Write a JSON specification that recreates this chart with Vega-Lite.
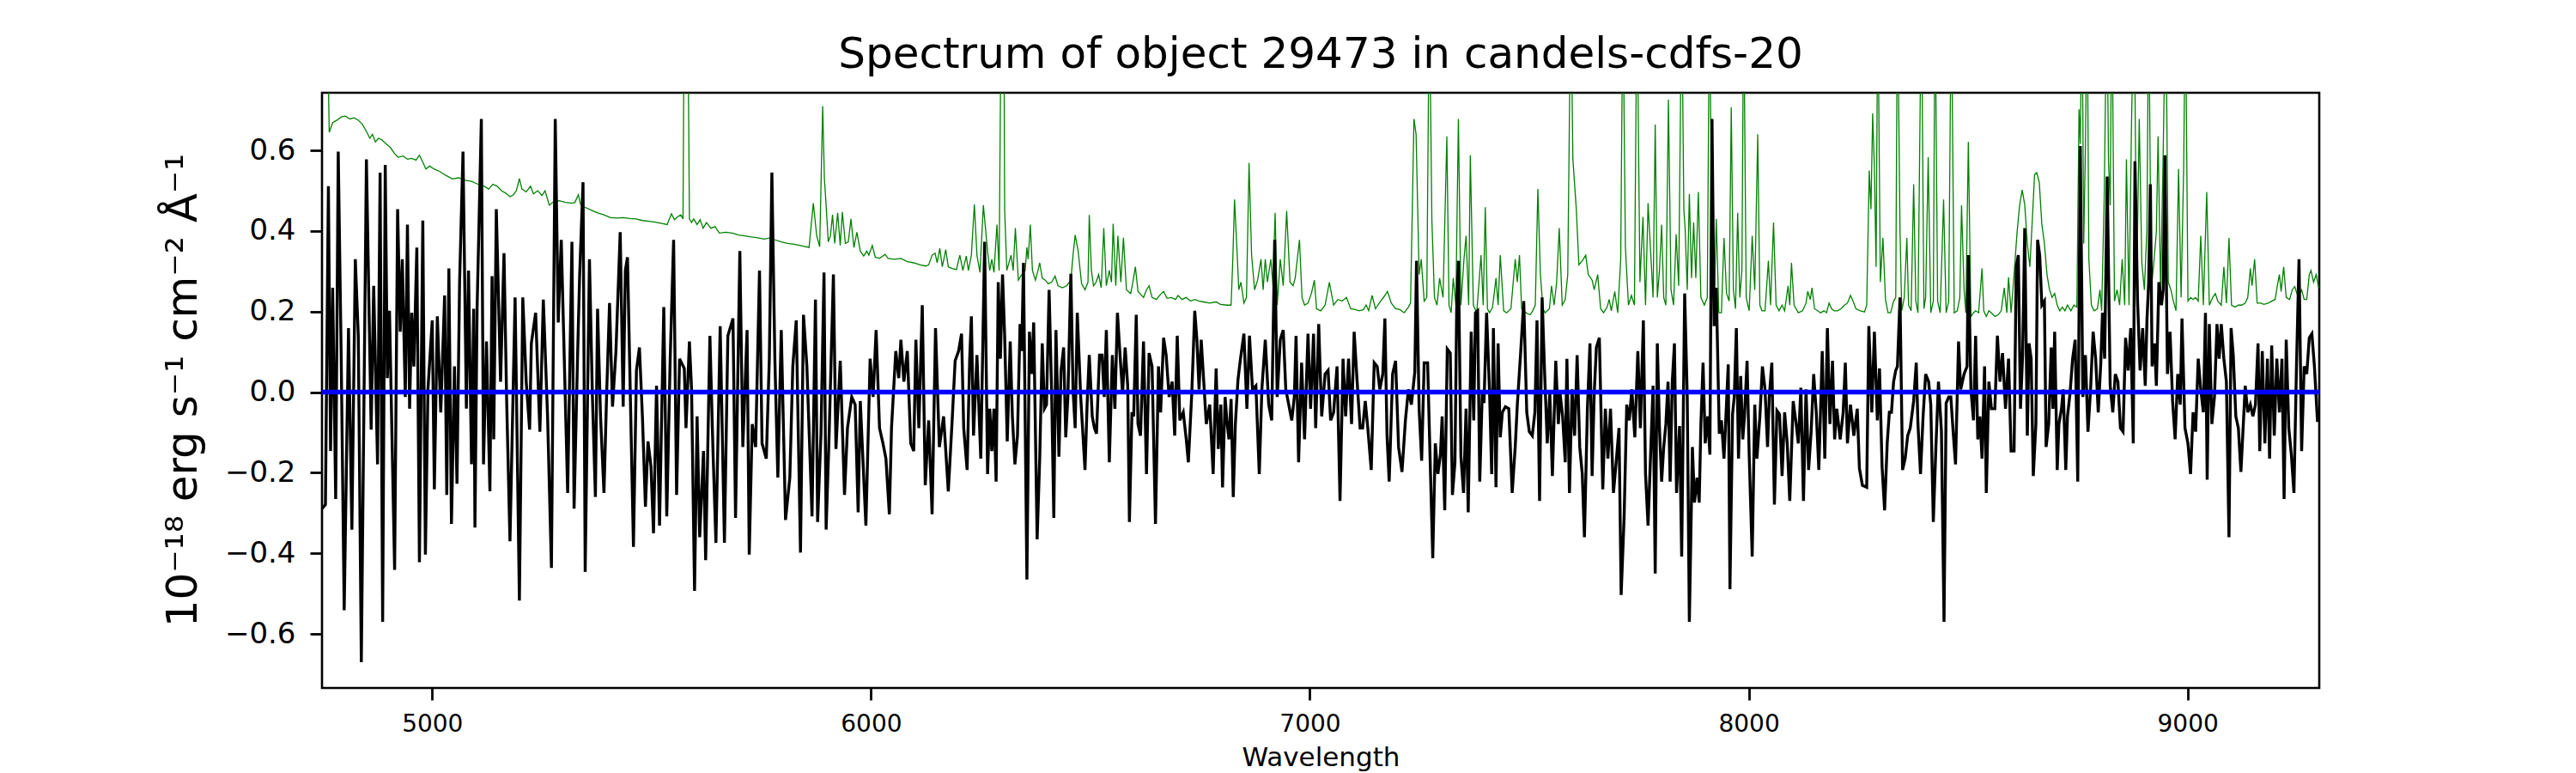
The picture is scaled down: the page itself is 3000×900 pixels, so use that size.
{
  "$schema": "https://vega.github.io/schema/vega-lite/v6.json",
  "width": 2326,
  "height": 693,
  "autosize": {"type": "none"},
  "padding": {"left": 375, "top": 108, "right": 299, "bottom": 99},
  "background": "white",
  "title": {
    "text": "Spectrum of object 29473 in candels-cdfs-20",
    "font": "DejaVu Sans",
    "fontSize": 50,
    "fontWeight": "normal",
    "color": "black",
    "anchor": "middle",
    "frame": "group",
    "baseline": "alphabetic",
    "offset": -21
  },
  "config": {
    "view": {"stroke": "black", "strokeWidth": 2.6},
    "axis": {
      "grid": false,
      "domain": false,
      "labelFont": "DejaVu Sans",
      "titleFont": "DejaVu Sans",
      "labelColor": "black",
      "titleColor": "black",
      "tickColor": "black",
      "tickWidth": 2.8,
      "tickSize": 14,
      "titleFontWeight": "normal"
    }
  },
  "datasets": {
    "zero": [{"w": 4749, "f": 0}, {"w": 9300, "f": 0}],
    "flux": [
      {"w":4749,"f":-0.289},{"w":4756.8,"f":-0.279},{"w":4763.6,"f":0.511},{"w":4768.5,"f":-0.146},{"w":4773.3,"f":0.259},{"w":4780.2,"f":-0.265},{"w":4786,"f":0.597},{"w":4792.8,"f":0.083},{"w":4799.6,"f":-0.541},{"w":4809.4,"f":0.159},
      {"w":4817.1,"f":-0.341},{"w":4824.9,"f":0.33},{"w":4831.7,"f":0.14},{"w":4838.6,"f":-0.67},{"w":4850.2,"f":0.578},{"w":4861,"f":-0.093},{"w":4866.8,"f":0.264},{"w":4875.6,"f":-0.179},{"w":4881.4,"f":0.545},{"w":4887.2,"f":-0.57},
      {"w":4893.1,"f":0.564},{"w":4897.9,"f":0.035},{"w":4902.8,"f":0.202},{"w":4914.5,"f":-0.441},{"w":4921.3,"f":0.454},{"w":4927.2,"f":0.15},{"w":4932,"f":0.33},{"w":4938.8,"f":-0.012},{"w":4943.7,"f":0.416},{"w":4948.6,"f":-0.041},
      {"w":4953.4,"f":0.197},{"w":4958.3,"f":0.064},{"w":4965.1,"f":0.359},{"w":4971,"f":-0.422},{"w":4978.7,"f":0.426},{"w":4984.6,"f":-0.403},{"w":4990.4,"f":0.007},{"w":5000.2,"f":0.178},{"w":5005,"f":-0.241},{"w":5011.8,"f":0.188},
      {"w":5019.6,"f":-0.05},{"w":5028.4,"f":0.24},{"w":5033.3,"f":-0.255},{"w":5038.1,"f":0.307},{"w":5044,"f":-0.327},{"w":5050.8,"f":0.064},{"w":5056.6,"f":-0.227},{"w":5062.5,"f":0.273},{"w":5070.3,"f":0.597},{"w":5078,"f":-0.041},
      {"w":5082.9,"f":0.302},{"w":5089.7,"f":-0.179},{"w":5094.6,"f":0.207},{"w":5097.5,"f":-0.336},{"w":5102.4,"f":0.207},{"w":5112.1,"f":0.678},{"w":5117,"f":-0.179},{"w":5123.8,"f":0.126},{"w":5131.6,"f":-0.246},{"w":5136.5,"f":0.288},
      {"w":5140.3,"f":-0.117},{"w":5146.2,"f":0.454},{"w":5155.9,"f":0.026},{"w":5163.7,"f":0.345},{"w":5169.6,"f":-0.012},{"w":5177.3,"f":-0.37},{"w":5189,"f":0.235},{"w":5198.8,"f":-0.517},{"w":5206.5,"f":0.235},{"w":5214.3,"f":0.026},
      {"w":5222.1,"f":-0.093},{"w":5226,"f":0.121},{"w":5235.8,"f":0.197},{"w":5245.5,"f":-0.098},{"w":5253.3,"f":0.23},{"w":5263,"f":-0.06},{"w":5271.8,"f":-0.436},{"w":5280.5,"f":0.678},{"w":5287.3,"f":0.173},{"w":5294.2,"f":0.378},
      {"w":5308.8,"f":-0.25},{"w":5318.5,"f":0.373},{"w":5323.4,"f":-0.289},{"w":5331.2,"f":0.083},{"w":5336,"f":0.288},{"w":5343.8,"f":0.521},{"w":5348.7,"f":-0.446},{"w":5358.4,"f":0.33},{"w":5365.2,"f":-0.012},{"w":5372,"f":-0.26},
      {"w":5376.9,"f":0.207},{"w":5383.7,"f":-0.06},{"w":5391.5,"f":-0.25},{"w":5397.4,"f":-0.012},{"w":5404.2,"f":0.221},{"w":5411,"f":-0.036},{"w":5418.8,"f":0.102},{"w":5428.5,"f":0.397},{"w":5435.3,"f":-0.036},{"w":5440.2,"f":0.302},
      {"w":5445.1,"f":0.335},{"w":5458.7,"f":-0.384},{"w":5465.5,"f":0.054},{"w":5472.3,"f":0.111},{"w":5479.1,"f":-0.06},{"w":5486,"f":-0.284},{"w":5491.8,"f":-0.122},{"w":5498.6,"f":-0.184},{"w":5504.4,"f":-0.35},{"w":5511.3,"f":0.016},
      {"w":5518.1,"f":-0.331},{"w":5527.8,"f":0.211},{"w":5534.6,"f":-0.308},{"w":5542.4,"f":0.083},{"w":5550.2,"f":0.378},{"w":5557,"f":-0.255},{"w":5563.8,"f":0.083},{"w":5574.5,"f":0.059},{"w":5578.4,"f":-0.089},{"w":5586.2,"f":0.126},
      {"w":5591.1,"f":0.007},{"w":5597.9,"f":-0.493},{"w":5603.7,"f":-0.06},{"w":5609.6,"f":-0.36},{"w":5618.3,"f":-0.146},{"w":5623.2,"f":-0.417},{"w":5632.9,"f":0.14},{"w":5639.8,"f":-0.141},{"w":5646.6,"f":-0.374},{"w":5656.3,"f":0.164},
      {"w":5666,"f":-0.374},{"w":5673.8,"f":0.14},{"w":5685.5,"f":0.183},{"w":5691.3,"f":-0.312},{"w":5701.1,"f":0.35},{"w":5707.9,"f":-0.136},{"w":5717.6,"f":0.154},{"w":5722.5,"f":-0.403},{"w":5729.3,"f":-0.079},{"w":5737.1,"f":-0.136},
      {"w":5745.9,"f":0.302},{"w":5751.7,"f":-0.127},{"w":5761.4,"f":-0.165},{"w":5768.3,"f":0.083},{"w":5774.1,"f":0.545},{"w":5780.9,"f":0.083},{"w":5787.7,"f":-0.212},{"w":5795.5,"f":0.154},{"w":5805.2,"f":-0.317},{"w":5815,"f":-0.212},
      {"w":5821.8,"f":0.064},{"w":5829.6,"f":0.178},{"w":5839.3,"f":-0.398},{"w":5846.1,"f":0.192},{"w":5853.9,"f":0.064},{"w":5865.6,"f":-0.308},{"w":5873.4,"f":0.23},{"w":5878.3,"f":-0.322},{"w":5886,"f":-0.103},{"w":5892.9,"f":0.297},
      {"w":5897.7,"f":-0.341},{"w":5904.5,"f":-0.108},{"w":5914.3,"f":0.292},{"w":5920.1,"f":-0.141},{"w":5929.9,"f":0.078},{"w":5939.6,"f":-0.255},{"w":5946.4,"f":-0.089},{"w":5956.1,"f":-0.012},{"w":5963.9,"f":-0.031},{"w":5970.7,"f":-0.298},
      {"w":5975.6,"f":-0.022},{"w":5988.3,"f":-0.331},{"w":5998,"f":0.083},{"w":6004.8,"f":-0.012},{"w":6011.6,"f":0.154},{"w":6019.4,"f":-0.089},{"w":6027.2,"f":-0.127},{"w":6034,"f":-0.165},{"w":6041.8,"f":-0.303},{"w":6046.7,"f":-0.089},
      {"w":6056.4,"f":0.102},{"w":6063.2,"f":0.035},{"w":6068.1,"f":0.13},{"w":6074.9,"f":0.026},{"w":6082.7,"f":0.102},{"w":6090.5,"f":-0.127},{"w":6097.3,"f":-0.146},{"w":6102.2,"f":0.13},{"w":6109,"f":-0.089},{"w":6116.8,"f":0.216},
      {"w":6123.6,"f":-0.231},{"w":6131.4,"f":-0.07},{"w":6139.2,"f":-0.303},{"w":6147,"f":0.159},{"w":6155.7,"f":-0.136},{"w":6165.4,"f":-0.06},{"w":6176.1,"f":-0.246},{"w":6184.9,"f":-0.07},{"w":6191.7,"f":0.078},{"w":6199.5,"f":0.102},
      {"w":6206.3,"f":0.145},{"w":6211.2,"f":-0.089},{"w":6219,"f":-0.193},{"w":6224.8,"f":0.083},{"w":6228.7,"f":0.188},{"w":6233.6,"f":-0.108},{"w":6241.4,"f":0.092},{"w":6250.1,"f":-0.165},{"w":6258.9,"f":0.373},
      {"w":6265.6,"f":-0.203},{"w":6270.5,"f":-0.041},{"w":6275.3,"f":-0.146},{"w":6280.2,"f":-0.041},{"w":6285.1,"f":-0.222},{"w":6289.9,"f":0.273},{"w":6294.8,"f":0.083},{"w":6299.7,"f":0.292},{"w":6304.5,"f":0.14},{"w":6310.4,"f":-0.122},
      {"w":6317.2,"f":0.126},{"w":6322.1,"f":-0.06},{"w":6327.9,"f":-0.179},{"w":6333.7,"f":-0.108},{"w":6339.6,"f":0.169},{"w":6343.5,"f":0.102},{"w":6347.4,"f":0.321},{"w":6355.2,"f":-0.465},{"w":6361,"f":0.15},{"w":6365.9,"f":0.045},
      {"w":6370.7,"f":0.173},{"w":6378.5,"f":-0.365},{"w":6384.4,"f":-0.165},{"w":6390.2,"f":0.121},{"w":6395.1,"f":-0.041},{"w":6399.9,"f":-0.031},{"w":6405.8,"f":0.254},{"w":6411.6,"f":-0.003},{"w":6416.5,"f":-0.312},{"w":6421.4,"f":0.154},
      {"w":6428.2,"f":-0.16},{"w":6433,"f":0.054},{"w":6438.9,"f":0.111},{"w":6443.7,"f":-0.112},{"w":6448.6,"f":-0.012},{"w":6455.4,"f":0.294},{"w":6460.3,"f":0.007},{"w":6465.2,"f":-0.089},{"w":6470,"f":0.197},{"w":6477.8,"f":-0.012},
      {"w":6487.6,"f":-0.193},{"w":6492.4,"f":-0.031},{"w":6497.3,"f":0.092},{"w":6504.1,"f":-0.06},{"w":6509,"f":-0.089},{"w":6513.8,"f":-0.103},{"w":6520.7,"f":0.092},{"w":6526.5,"f":0.092},{"w":6531.4,"f":-0.012},{"w":6536.2,"f":0.154},
      {"w":6543,"f":-0.174},{"w":6549.9,"f":0.092},{"w":6555.7,"f":-0.041},{"w":6561.5,"f":0.197},{"w":6567.4,"f":0.092},{"w":6573.2,"f":-0.003},{"w":6579.1,"f":0.111},{"w":6584.9,"f":0.016},{"w":6588.8,"f":-0.322},{"w":6594.6,"f":-0.05},
      {"w":6598.5,"f":-0.06},{"w":6604.4,"f":0.192},{"w":6608.3,"f":-0.079},{"w":6614.1,"f":-0.108},{"w":6620.9,"f":0.126},{"w":6627.7,"f":-0.203},{"w":6633.6,"f":0.097},{"w":6640.4,"f":0.064},{"w":6648.2,"f":-0.327},{"w":6655,"f":0.064},
      {"w":6659.9,"f":-0.05},{"w":6666.7,"f":0.135},{"w":6672.5,"f":0.092},{"w":6679.3,"f":-0.012},{"w":6686.2,"f":0.026},{"w":6692,"f":-0.108},{"w":6697.8,"f":0.14},{"w":6703.7,"f":-0.07},{"w":6711.5,"f":-0.05},{"w":6718.3,"f":-0.117},
      {"w":6723.1,"f":-0.174},{"w":6730.9,"f":-0.003},{"w":6737.7,"f":0.202},{"w":6742.6,"f":0.13},{"w":6747.5,"f":0.007},{"w":6752.4,"f":0.13},{"w":6758.2,"f":0.026},{"w":6764,"f":-0.079},{"w":6771.8,"f":-0.031},{"w":6779.6,"f":-0.203},
      {"w":6786.4,"f":0.059},{"w":6791.3,"f":-0.141},{"w":6797.1,"f":-0.031},{"w":6801,"f":-0.236},{"w":6806.9,"f":-0.012},{"w":6810.8,"f":-0.07},{"w":6815.6,"f":-0.117},{"w":6820.5,"f":-0.017},{"w":6825.4,"f":-0.26},{"w":6830.2,"f":-0.079},
      {"w":6836.1,"f":0.03},{"w":6841.9,"f":0.083},{"w":6849.7,"f":0.145},{"w":6856.5,"f":-0.041},{"w":6862.4,"f":0.14},{"w":6869.2,"f":0.007},{"w":6877,"f":0.016},{"w":6884.7,"f":-0.203},{"w":6890.6,"f":0.007},{"w":6898.4,"f":0.13},
      {"w":6906.2,"f":-0.031},{"w":6913,"f":-0.07},{"w":6919.8,"f":0.378},{"w":6925.6,"f":-0.012},{"w":6932.5,"f":0.13},{"w":6939.3,"f":0.154},{"w":6945.1,"f":0.007},{"w":6951.9,"f":-0.031},{"w":6958.7,"f":-0.07},{"w":6964.6,"f":-0.012},
      {"w":6968.5,"f":0.14},{"w":6974.3,"f":-0.174},{"w":6981.1,"f":0.073},{"w":6987.9,"f":-0.117},{"w":6995.7,"f":0.145},{"w":7001.6,"f":-0.041},{"w":7008.4,"f":0.145},{"w":7013.2,"f":-0.089},{"w":7020.1,"f":0.169},{"w":7026.9,"f":-0.06},
      {"w":7034.7,"f":0.045},{"w":7041.5,"f":0.054},{"w":7047.3,"f":-0.07},{"w":7054.1,"f":-0.05},{"w":7061.9,"f":0.064},{"w":7068.7,"f":-0.27},{"w":7075.6,"f":0.083},{"w":7081.4,"f":-0.06},{"w":7088.2,"f":0.083},{"w":7095,"f":-0.079},
      {"w":7100.9,"f":0.15},{"w":7107.7,"f":0.026},{"w":7114.5,"f":-0.089},{"w":7120.3,"f":-0.089},{"w":7126.2,"f":-0.022},{"w":7132,"f":-0.089},{"w":7139.8,"f":-0.193},{"w":7146.6,"f":0.073},{"w":7153.4,"f":0.064},{"w":7159.3,"f":0.007},
      {"w":7166.1,"f":0.045},{"w":7170.9,"f":0.183},{"w":7175.8,"f":-0.108},{"w":7180.7,"f":-0.222},{"w":7188.5,"f":0.045},{"w":7195.3,"f":0.078},{"w":7202.1,"f":-0.136},{"w":7209.9,"f":-0.198},{"w":7217.7,"f":-0.07},{"w":7224.5,"f":0.007},
      {"w":7231.3,"f":-0.031},{"w":7239.1,"f":0.05},{"w":7243,"f":0.326},{"w":7248.9,"f":-0.041},{"w":7254.7,"f":-0.17},{"w":7260.5,"f":0.073},{"w":7268.3,"f":0.073},{"w":7274.1,"f":-0.17},{"w":7280,"f":-0.412},{"w":7285.8,"f":-0.127},
      {"w":7291.7,"f":-0.203},{"w":7297.5,"f":-0.155},{"w":7301.4,"f":-0.06},{"w":7307.3,"f":-0.293},{"w":7313.1,"f":0.107},{"w":7319.9,"f":0.097},{"w":7324.8,"f":-0.255},{"w":7330.6,"f":-0.174},{"w":7334.5,"f":0.207},{"w":7338.4,"f":0.326},
      {"w":7344.2,"f":-0.16},{"w":7350.1,"f":-0.25},{"w":7355.9,"f":-0.041},{"w":7360.8,"f":-0.298},{"w":7367.6,"f":0.15},{"w":7373.4,"f":-0.07},{"w":7377.3,"f":0.197},{"w":7382.2,"f":0.202},{"w":7387.1,"f":-0.222},{"w":7392.9,"f":0.002},
      {"w":7396.8,"f":-0.027},{"w":7402.7,"f":0.197},{"w":7409.5,"f":-0.003},{"w":7414.3,"f":-0.203},{"w":7418.2,"f":0.159},{"w":7424.1,"f":-0.236},{"w":7428.9,"f":0.121},{"w":7433.8,"f":-0.112},{"w":7438.7,"f":-0.05},{"w":7445.5,"f":-0.036},
      {"w":7453.3,"f":-0.041},{"w":7461,"f":-0.25},{"w":7467.9,"f":-0.136},{"w":7472.7,"f":-0.031},{"w":7480.5,"f":0.102},{"w":7487.3,"f":0.226},{"w":7494.2,"f":-0.05},{"w":7500,"f":-0.098},{"w":7506.8,"f":-0.108},{"w":7512.7,"f":-0.05},
      {"w":7517.5,"f":0.178},{"w":7523.4,"f":-0.27},{"w":7529.2,"f":0.235},{"w":7535,"f":0.045},{"w":7540.9,"f":-0.127},{"w":7546.7,"f":-0.003},{"w":7552.6,"f":-0.208},{"w":7560.3,"f":0.078},{"w":7566.2,"f":-0.079},{"w":7570.1,"f":-0.003},
      {"w":7575.9,"f":-0.06},{"w":7581.8,"f":-0.174},{"w":7585.7,"f":0.083},{"w":7591.5,"f":-0.25},{"w":7597.4,"f":0.007},{"w":7603.2,"f":-0.108},{"w":7609,"f":0.092},{"w":7614.9,"f":-0.136},{"w":7620.7,"f":-0.203},{"w":7625.6,"f":-0.36},
      {"w":7632.4,"f":-0.041},{"w":7638.2,"f":0.121},{"w":7643.1,"f":-0.208},{"w":7647.9,"f":-0.003},{"w":7652.8,"f":0.111},{"w":7659.6,"f":0.135},{"w":7667.4,"f":-0.241},{"w":7673.3,"f":-0.041},{"w":7679.1,"f":-0.165},{"w":7685,"f":-0.041},
      {"w":7691.8,"f":-0.25},{"w":7698.6,"f":-0.165},{"w":7704.4,"f":-0.089},{"w":7709.3,"f":-0.503},{"w":7716.1,"f":-0.308},{"w":7722,"f":-0.031},{"w":7727.8,"f":-0.07},{"w":7733.6,"f":0.007},{"w":7740.4,"f":-0.112},{"w":7747.3,"f":0.102},
      {"w":7753.1,"f":-0.089},{"w":7759.9,"f":0.178},{"w":7764.8,"f":-0.203},{"w":7770.6,"f":-0.331},
      {"w":7782,"f":0.016},{"w":7786.9,"f":-0.45},{"w":7791.7,"f":0.121},{"w":7796.6,"f":-0.089},{"w":7801.5,"f":-0.222},{"w":7806.3,"f":-0.136},{"w":7811.2,"f":-0.079},{"w":7816.1,"f":0.026},{"w":7820.9,"f":-0.222},{"w":7825.8,"f":0.026},
      {"w":7830.7,"f":0.121},{"w":7835.5,"f":-0.25},{"w":7842.4,"f":-0.084},{"w":7847.2,"f":-0.408},{"w":7854,"f":0.245},{"w":7859.9,"f":-0.012},{"w":7864.7,"f":-0.57},{"w":7871.6,"f":-0.136},{"w":7876.4,"f":-0.274},{"w":7882.3,"f":-0.212},
      {"w":7887.1,"f":-0.274},{"w":7891,"f":-0.079},{"w":7895.9,"f":0.073},{"w":7900.8,"f":-0.127},{"w":7906.6,"f":-0.06},{"w":7911.5,"f":-0.155},{"w":7916.3,"f":0.678},{"w":7921.2,"f":0.164},{"w":7926.1,"f":0.259},{"w":7932.9,"f":-0.103},
      {"w":7937.8,"f":-0.07},{"w":7943.6,"f":-0.165},{"w":7949.4,"f":-0.027},{"w":7953.3,"f":0.069},{"w":7957.2,"f":-0.489},{"w":7963.1,"f":-0.055},{"w":7967,"f":-0.012},{"w":7971.8,"f":0.159},{"w":7976.7,"f":-0.165},{"w":7981.6,"f":0.04},
      {"w":7986.4,"f":-0.117},{"w":7990.3,"f":-0.06},{"w":7996.2,"f":0.078},{"w":8001,"f":-0.155},{"w":8007.9,"f":-0.408},{"w":8013.7,"f":-0.031},{"w":8018.6,"f":-0.165},{"w":8025.4,"f":-0.06},{"w":8031.2,"f":0.064},{"w":8037.1,"f":0.007},
      {"w":8042.9,"f":-0.136},{"w":8046.8,"f":-0.012},{"w":8052.6,"f":0.073},{"w":8058.5,"f":-0.279},{"w":8064.3,"f":-0.046},{"w":8070.2,"f":-0.055},{"w":8076,"f":-0.208},{"w":8081.8,"f":-0.05},{"w":8087.7,"f":-0.127},{"w":8093.5,"f":-0.27},
      {"w":8101.3,"f":-0.022},{"w":8108.1,"f":-0.079},{"w":8113,"f":-0.127},{"w":8118.8,"f":0.011},{"w":8124.7,"f":-0.27},{"w":8130.5,"f":0.007},{"w":8136.4,"f":-0.193},{"w":8142.2,"f":-0.098},{"w":8148,"f":0.045},{"w":8153.9,"f":-0.05},
      {"w":8159.7,"f":-0.193},{"w":8167.5,"f":0.102},{"w":8173.3,"f":-0.165},{"w":8179.2,"f":0.159},{"w":8185,"f":-0.079},{"w":8190.9,"f":0.078},{"w":8195.7,"f":-0.117},{"w":8200.6,"f":-0.041},{"w":8208.4,"f":-0.117},{"w":8215.2,"f":-0.05},
      {"w":8220.1,"f":0.073},{"w":8224.9,"f":-0.127},{"w":8231.8,"f":-0.031},{"w":8239.5,"f":-0.108},{"w":8247.3,"f":-0.041},{"w":8252.2,"f":-0.189},{"w":8259,"f":-0.231},{"w":8268.8,"f":-0.236},{"w":8273.6,"f":0.164},{"w":8280.4,"f":-0.05},
      {"w":8286.3,"f":0.15},{"w":8293.1,"f":-0.07},{"w":8298,"f":0.059},{"w":8303.8,"f":-0.184},{"w":8309.6,"f":-0.293},{"w":8315.5,"f":-0.127},{"w":8320.4,"f":-0.05},{"w":8325.2,"f":-0.05},{"w":8330.1,"f":0.026},{"w":8335,"f":0.054},
      {"w":8338.8,"f":0.064},{"w":8344.7,"f":0.235},{"w":8350.5,"f":-0.193},{"w":8356.4,"f":-0.165},{"w":8362.2,"f":-0.108},{"w":8368,"f":-0.089},{"w":8375.8,"f":-0.022},{"w":8381.7,"f":0.073},{"w":8385.6,"f":-0.079},{"w":8391.4,"f":-0.203},
      {"w":8397.3,"f":-0.06},{"w":8403.1,"f":0.045},{"w":8409.9,"f":0.026},{"w":8414.8,"f":-0.031},{"w":8420.6,"f":-0.322},{"w":8426.5,"f":-0.136},{"w":8432.3,"f":0.026},{"w":8439.1,"f":-0.098},{"w":8445,"f":-0.57},{"w":8449.8,"f":-0.027},
      {"w":8455.7,"f":-0.012},{"w":8460.5,"f":-0.012},{"w":8466.4,"f":-0.108},{"w":8471.2,"f":-0.179},{"w":8478.1,"f":0.126},{"w":8482.9,"f":0.007},{"w":8490.7,"f":0.045},{"w":8497.5,"f":0.064},{"w":8500.4,"f":0.34},{"w":8506.3,"f":0.007},
      {"w":8512.1,"f":-0.07},{"w":8517,"f":0.14},{"w":8521.9,"f":-0.117},{"w":8526.7,"f":-0.06},{"w":8531.6,"f":-0.165},{"w":8537.4,"f":0.064},{"w":8541.3,"f":-0.25},{"w":8547.2,"f":0.026},{"w":8553,"f":-0.041},{"w":8560.8,"f":-0.041},
      {"w":8566.6,"f":0.14},{"w":8572.5,"f":0.026},{"w":8578.3,"f":0.097},{"w":8585.1,"f":-0.041},{"w":8592,"f":0.083},{"w":8597.8,"f":-0.146},{"w":8604.6,"f":-0.146},{"w":8609.5,"f":0.311},{"w":8614.3,"f":0.34},{"w":8619.2,"f":-0.041},
      {"w":8624.1,"f":0.092},{"w":8628.9,"f":0.407},{"w":8634.8,"f":-0.108},{"w":8638.7,"f":0.121},{"w":8643.5,"f":0.083},{"w":8648.4,"f":-0.208},{"w":8654.3,"f":-0.079},{"w":8658.2,"f":0.378},{"w":8663,"f":0.34},{"w":8667.9,"f":0.216},
      {"w":8673.7,"f":0.226},{"w":8677.6,"f":-0.136},{"w":8683.5,"f":-0.079},{"w":8689.3,"f":0.111},{"w":8693.2,"f":-0.041},{"w":8697.1,"f":0.15},{"w":8702.9,"f":-0.193},{"w":8706.8,"f":-0.079},{"w":8712.7,"f":-0.041},{"w":8716.6,"f":0.007},
      {"w":8722.4,"f":-0.193},{"w":8726.3,"f":-0.06},{"w":8732.1,"f":-0.003},{"w":8738,"f":0.083},{"w":8743.8,"f":0.13},{"w":8749.7,"f":-0.222},{"w":8755.5,"f":0.611},{"w":8761.3,"f":-0.012},{"w":8767.2,"f":0.092},{"w":8773,"f":-0.098},
      {"w":8778.9,"f":0.007},{"w":8784.7,"f":0.15},{"w":8790.5,"f":0.083},{"w":8796.4,"f":-0.05},{"w":8802.2,"f":0.073},{"w":8806.1,"f":0.197},{"w":8811,"f":0.083},{"w":8816.8,"f":0.535},{"w":8823.6,"f":0.016},{"w":8829.5,"f":-0.05},
      {"w":8835.3,"f":0.045},{"w":8841.2,"f":0.026},{"w":8847,"f":-0.089},{"w":8852.9,"f":-0.098},{"w":8858.7,"f":0.135},{"w":8864.5,"f":0.054},{"w":8870.4,"f":0.159},{"w":8876.2,"f":-0.127},{"w":8880.1,"f":0.573},{"w":8886,"f":0.226},
      {"w":8891.8,"f":0.054},{"w":8897.6,"f":0.159},{"w":8903.5,"f":0.016},{"w":8907.4,"f":0.178},{"w":8911.3,"f":0.273},{"w":8915.2,"f":0.516},{"w":8919.1,"f":0.064},{"w":8924.9,"f":0.121},{"w":8928.8,"f":0.016},{"w":8934.6,"f":0.273},
      {"w":8940.5,"f":0.216},{"w":8944.4,"f":0.254},{"w":8948.3,"f":0.588},{"w":8954.1,"f":0.045},{"w":8960,"f":0.15},{"w":8965.8,"f":-0.022},{"w":8971.6,"f":-0.117},{"w":8977.5,"f":0.045},{"w":8983.3,"f":-0.031},{"w":8987.2,"f":0.183},
      {"w":8994,"f":-0.089},{"w":9000.8,"f":-0.127},{"w":9006.7,"f":-0.203},{"w":9012.5,"f":-0.05},{"w":9018.3,"f":-0.098},{"w":9024.2,"f":0.083},{"w":9030,"f":0.007},{"w":9035.9,"f":-0.05},{"w":9040.7,"f":0.197},{"w":9044.6,"f":-0.217},
      {"w":9049.5,"f":0.169},{"w":9055.3,"f":-0.079},{"w":9061.2,"f":-0.012},{"w":9067,"f":0.169},{"w":9071.9,"f":0.083},{"w":9076.8,"f":0.169},{"w":9082.6,"f":0.083},{"w":9088.4,"f":0.026},{"w":9094.3,"f":-0.36},{"w":9099.1,"f":0.159},
      {"w":9104,"f":0.092},{"w":9109.9,"f":-0.06},{"w":9115.7,"f":-0.089},{"w":9121.5,"f":-0.198},{"w":9127.4,"f":-0.07},{"w":9131.3,"f":0.016},{"w":9137.1,"f":-0.05},{"w":9143,"f":-0.031},{"w":9148.8,"f":-0.06},{"w":9154.6,"f":-0.031},
      {"w":9160.5,"f":0.121},{"w":9164.4,"f":-0.146},{"w":9170.2,"f":0.102},{"w":9176.1,"f":-0.127},{"w":9181.9,"f":0.083},{"w":9186.8,"f":-0.165},{"w":9191.6,"f":0.116},{"w":9197.5,"f":-0.108},{"w":9203.3,"f":0.083},{"w":9209.2,"f":-0.05},
      {"w":9215,"f":0.083},{"w":9219.9,"f":-0.265},{"w":9224.7,"f":0.13},{"w":9230.6,"f":-0.089},{"w":9236.4,"f":-0.155},{"w":9242.3,"f":-0.25},{"w":9248.1,"f":0.064},{"w":9253.9,"f":0.33},{"w":9259.8,"f":-0.146},{"w":9265.6,"f":0.064},
      {"w":9271.5,"f":0.045},{"w":9277.3,"f":0.135},{"w":9283.2,"f":0.145},{"w":9289,"f":0.064},{"w":9295.8,"f":-0.07},{"w":9300,"f":-0.07}
    ],
    "err": [
      {"w":4749,"f":1.0},{"w":4760,"f":1.0},{"w":4765.5,"f":0.645},{"w":4773.3,"f":0.669},{"w":4783.1,"f":0.675},{"w":4792.8,"f":0.683},{"w":4802.5,"f":0.685},{"w":4812.3,"f":0.678},{"w":4822,"f":0.681},{"w":4831.7,"f":0.675},
      {"w":4841.5,"f":0.664},{"w":4851.2,"f":0.645},{"w":4858,"f":0.63},{"w":4863.9,"f":0.64},{"w":4870.7,"f":0.621},{"w":4877.5,"f":0.63},{"w":4885.3,"f":0.626},{"w":4895,"f":0.616},{"w":4904.8,"f":0.607},{"w":4914.5,"f":0.592},
      {"w":4922.3,"f":0.583},{"w":4934,"f":0.586},{"w":4943.7,"f":0.578},{"w":4953.4,"f":0.58},{"w":4963.2,"f":0.576},{"w":4971,"f":0.588},{"w":4977.8,"f":0.573},{"w":4985.6,"f":0.554},{"w":4994.3,"f":0.561},{"w":5004.1,"f":0.554},
      {"w":5016.7,"f":0.548},{"w":5031.3,"f":0.538},{"w":5045.9,"f":0.529},{"w":5060.5,"f":0.532},{"w":5075.1,"f":0.526},{"w":5089.7,"f":0.523},{"w":5104.3,"f":0.516},{"w":5118.9,"f":0.511},{"w":5128.7,"f":0.504},{"w":5138.4,"f":0.516},
      {"w":5148.1,"f":0.511},{"w":5157.9,"f":0.5},{"w":5167.6,"f":0.494},{"w":5177.3,"f":0.485},{"w":5185.1,"f":0.49},{"w":5191.9,"f":0.5},{"w":5198.8,"f":0.53},{"w":5204.6,"f":0.504},{"w":5214.3,"f":0.497},{"w":5224.1,"f":0.511},
      {"w":5230.9,"f":0.492},{"w":5240.6,"f":0.5},{"w":5250.4,"f":0.488},{"w":5257.2,"f":0.5},{"w":5266.9,"f":0.464},{"w":5274.7,"f":0.471},{"w":5289.3,"f":0.475},{"w":5303.9,"f":0.471},{"w":5318.5,"f":0.469},{"w":5325.3,"f":0.471},
      {"w":5333.1,"f":0.49},{"w":5338,"f":0.466},{"w":5347.7,"f":0.459},{"w":5362.3,"f":0.452},{"w":5376.9,"f":0.445},{"w":5391.5,"f":0.44},{"w":5406.1,"f":0.433},{"w":5420.7,"f":0.432},{"w":5435.3,"f":0.433},{"w":5449.9,"f":0.431},
      {"w":5464.5,"f":0.43},{"w":5479.1,"f":0.426},{"w":5493.7,"f":0.424},{"w":5508.3,"f":0.422},{"w":5522.9,"f":0.419},{"w":5535.6,"f":0.416},{"w":5545.3,"f":0.443},{"w":5552.1,"f":0.428},{"w":5559,"f":0.435},{"w":5566.7,"f":0.44},
      {"w":5571.6,"f":0.43},{"w":5574.5,"f":1.0},{"w":5582.3,"f":1.0},{"w":5586.2,"f":0.43},{"w":5591.1,"f":0.421},{"w":5596,"f":0.43},{"w":5603.7,"f":0.416},{"w":5610.5,"f":0.428},{"w":5617.4,"f":0.407},{"w":5625.2,"f":0.421},
      {"w":5634.9,"f":0.407},{"w":5644.6,"f":0.411},{"w":5654.4,"f":0.395},{"w":5669,"f":0.397},{"w":5683.6,"f":0.395},{"w":5698.2,"f":0.39},{"w":5712.8,"f":0.388},{"w":5727.4,"f":0.385},{"w":5742,"f":0.383},{"w":5756.6,"f":0.38},
      {"w":5771.2,"f":0.383},{"w":5780.9,"f":0.378},{"w":5795.5,"f":0.373},{"w":5810.1,"f":0.369},{"w":5824.7,"f":0.367},{"w":5839.3,"f":0.364},{"w":5858.8,"f":0.359},{"w":5868.5,"f":0.469},{"w":5876.3,"f":0.388},{"w":5883.1,"f":0.361},
      {"w":5889.9,"f":0.71},{"w":5893.8,"f":0.53},{"w":5897.7,"f":0.464},{"w":5902.6,"f":0.373},{"w":5907.5,"f":0.388},{"w":5912.3,"f":0.44},{"w":5917.2,"f":0.369},{"w":5924,"f":0.445},{"w":5929.9,"f":0.364},{"w":5934.7,"f":0.447},
      {"w":5941.5,"f":0.369},{"w":5948.3,"f":0.373},{"w":5954.2,"f":0.43},{"w":5961,"f":0.359},{"w":5967.8,"f":0.397},{"w":5975.6,"f":0.35},{"w":5983.4,"f":0.338},{"w":5990.2,"f":0.35},{"w":5995.1,"f":0.34},{"w":6002.9,"f":0.364},
      {"w":6009.7,"f":0.335},{"w":6019.4,"f":0.332},{"w":6032.1,"f":0.342},{"w":6038.9,"f":0.332},{"w":6053.5,"f":0.33},{"w":6068.1,"f":0.332},{"w":6082.7,"f":0.324},{"w":6097.3,"f":0.321},{"w":6111.9,"f":0.316},{"w":6124.6,"f":0.313},
      {"w":6131.4,"f":0.316},{"w":6139.2,"f":0.34},{"w":6146,"f":0.345},{"w":6150.8,"f":0.321},{"w":6156.7,"f":0.357},{"w":6162.5,"f":0.311},{"w":6170.3,"f":0.354},{"w":6176.1,"f":0.311},{"w":6184.9,"f":0.307},{"w":6194.6,"f":0.304},
      {"w":6202.4,"f":0.34},{"w":6209.3,"f":0.302},{"w":6217,"f":0.338},{"w":6221.9,"f":0.302},{"w":6228.7,"f":0.34},{"w":6235.5,"f":0.466},{"w":6241.4,"f":0.34},{"w":6248.2,"f":0.297},{"w":6256,"f":0.464},
      {"w":6265.6,"f":0.35},{"w":6270.5,"f":0.302},{"w":6275.3,"f":0.33},{"w":6280.2,"f":0.297},{"w":6287,"f":0.416},{"w":6291.9,"f":0.302},{"w":6296.8,"f":1.0},{"w":6302.6,"f":1.0},{"w":6304.5,"f":0.454},{"w":6309.4,"f":0.302},
      {"w":6319.1,"f":0.34},{"w":6324,"f":0.302},{"w":6328.9,"f":0.407},{"w":6335.7,"f":0.278},{"w":6343.5,"f":0.292},{"w":6351.3,"f":0.302},{"w":6355.2,"f":0.359},{"w":6358.1,"f":0.33},{"w":6363,"f":0.416},{"w":6367.8,"f":0.302},
      {"w":6374.6,"f":0.278},{"w":6380.5,"f":0.302},{"w":6384.4,"f":0.321},{"w":6390.2,"f":0.283},{"w":6397,"f":0.278},{"w":6403.8,"f":0.269},{"w":6411.6,"f":0.273},{"w":6419.4,"f":0.288},{"w":6426.2,"f":0.264},{"w":6436,"f":0.259},
      {"w":6445.7,"f":0.264},{"w":6455.4,"f":0.278},{"w":6460.3,"f":0.34},{"w":6465.2,"f":0.39},{"w":6472,"f":0.35},{"w":6479.8,"f":0.269},{"w":6487.6,"f":0.254},{"w":6494.4,"f":0.273},{"w":6497.3,"f":0.44},{"w":6502.2,"f":0.302},
      {"w":6507,"f":0.264},{"w":6512.9,"f":0.273},{"w":6518.7,"f":0.292},{"w":6524.5,"f":0.259},{"w":6530.4,"f":0.407},{"w":6536.2,"f":0.264},{"w":6543,"f":0.302},{"w":6547.9,"f":0.273},{"w":6551.8,"f":0.418},{"w":6557.7,"f":0.264},
      {"w":6562.5,"f":0.388},{"w":6569.3,"f":0.273},{"w":6575.2,"f":0.383},{"w":6582,"f":0.254},{"w":6591.7,"f":0.245},{"w":6596.6,"f":0.273},{"w":6602.4,"f":0.311},{"w":6608.3,"f":0.25},{"w":6620.9,"f":0.235},{"w":6627.7,"f":0.254},
      {"w":6633.6,"f":0.264},{"w":6640.4,"f":0.235},{"w":6650.1,"f":0.23},{"w":6659.9,"f":0.243},{"w":6666.7,"f":0.25},{"w":6674.5,"f":0.233},{"w":6684.2,"f":0.235},{"w":6693.9,"f":0.23},{"w":6699.8,"f":0.24},{"w":6708.5,"f":0.23},
      {"w":6718.3,"f":0.235},{"w":6728,"f":0.226},{"w":6737.7,"f":0.23},{"w":6747.5,"f":0.226},{"w":6757.2,"f":0.224},{"w":6771.8,"f":0.221},{"w":6786.4,"f":0.224},{"w":6796.2,"f":0.218},{"w":6810.8,"f":0.216},{"w":6820.5,"f":0.216},
      {"w":6824.4,"f":0.33},{"w":6828.3,"f":0.478},{"w":6833.2,"f":0.369},{"w":6838,"f":0.254},{"w":6842.9,"f":0.273},{"w":6849.7,"f":0.221},{"w":6855.5,"f":0.235},{"w":6861.4,"f":0.569},{"w":6867.2,"f":0.34},{"w":6874,"f":0.254},
      {"w":6880.9,"f":0.278},{"w":6888.6,"f":0.33},{"w":6893.5,"f":0.254},{"w":6898.4,"f":0.33},{"w":6903.2,"f":0.273},{"w":6911,"f":0.33},{"w":6915.9,"f":0.264},{"w":6920.8,"f":0.445},{"w":6925.6,"f":0.216},{"w":6932.5,"f":0.33},
      {"w":6939.3,"f":0.264},{"w":6947.1,"f":0.45},{"w":6954.8,"f":0.273},{"w":6961.7,"f":0.264},{"w":6966.5,"f":0.283},{"w":6976.3,"f":0.378},{"w":6982.1,"f":0.235},{"w":6987.9,"f":0.216},{"w":6995.7,"f":0.221},{"w":7003.5,"f":0.245},
      {"w":7010.3,"f":0.278},{"w":7015.2,"f":0.207},{"w":7024.9,"f":0.202},{"w":7034.7,"f":0.216},{"w":7044.4,"f":0.273},{"w":7054.1,"f":0.216},{"w":7063.9,"f":0.23},{"w":7073.6,"f":0.226},{"w":7083.3,"f":0.235},{"w":7093.1,"f":0.207},
      {"w":7102.8,"f":0.205},{"w":7112.5,"f":0.202},{"w":7122.3,"f":0.205},{"w":7128.1,"f":0.216},{"w":7134,"f":0.202},{"w":7141.8,"f":0.24},{"w":7149.5,"f":0.207},{"w":7161.2,"f":0.226},{"w":7170.9,"f":0.24},{"w":7176.8,"f":0.25},
      {"w":7185.6,"f":0.221},{"w":7195.3,"f":0.207},{"w":7205,"f":0.205},{"w":7214.8,"f":0.197},{"w":7224.5,"f":0.211},{"w":7229.4,"f":0.221},{"w":7237.2,"f":0.678},{"w":7242,"f":0.64},{"w":7248.9,"f":0.292},{"w":7253.7,"f":0.33},
      {"w":7260.5,"f":0.226},{"w":7266.4,"f":0.235},{"w":7272.2,"f":1.0},{"w":7278,"f":0.426},{"w":7283.9,"f":0.235},{"w":7289.7,"f":0.216},{"w":7295.6,"f":0.283},{"w":7303.4,"f":0.235},{"w":7312.1,"f":0.635},{"w":7317,"f":0.216},
      {"w":7321.9,"f":0.197},{"w":7326.7,"f":0.283},{"w":7332.6,"f":0.216},{"w":7338.4,"f":0.678},{"w":7344.2,"f":0.216},{"w":7351.1,"f":0.33},{"w":7355.9,"f":0.388},{"w":7361.8,"f":0.216},{"w":7365.6,"f":0.588},{"w":7372.5,"f":0.216},
      {"w":7380.2,"f":0.197},{"w":7390,"f":0.34},{"w":7394.9,"f":0.216},{"w":7399.7,"f":0.459},{"w":7404.6,"f":0.207},{"w":7409.5,"f":0.197},{"w":7416.3,"f":0.211},{"w":7424.1,"f":0.283},{"w":7428.9,"f":0.216},{"w":7433.8,"f":0.34},
      {"w":7441.6,"f":0.202},{"w":7448.4,"f":0.197},{"w":7458.1,"f":0.207},{"w":7467.9,"f":0.33},{"w":7472.7,"f":0.273},{"w":7477.6,"f":0.34},{"w":7482.5,"f":0.207},{"w":7492.2,"f":0.197},{"w":7502,"f":0.192},{"w":7507.8,"f":0.202},
      {"w":7513.6,"f":0.216},{"w":7519.5,"f":0.504},{"w":7525.3,"f":0.292},{"w":7531.2,"f":0.207},{"w":7536,"f":0.197},{"w":7545.8,"f":0.207},{"w":7550.6,"f":0.264},{"w":7556.5,"f":0.216},{"w":7562.3,"f":0.273},{"w":7568.2,"f":0.407},
      {"w":7575,"f":0.216},{"w":7581.8,"f":0.23},{"w":7587.6,"f":0.292},{"w":7594.5,"f":1.0},{"w":7599.3,"f":0.578},{"w":7607.1,"f":0.454},{"w":7612.9,"f":0.316},{"w":7620.7,"f":0.326},{"w":7628.5,"f":0.34},{"w":7634.3,"f":0.292},
      {"w":7643.1,"f":0.278},{"w":7647.9,"f":0.254},{"w":7655.8,"f":0.292},{"w":7662.6,"f":0.207},{"w":7669.4,"f":0.197},{"w":7677.2,"f":0.211},{"w":7682,"f":0.23},{"w":7686.9,"f":0.202},{"w":7694.7,"f":0.25},{"w":7701.5,"f":0.197},
      {"w":7708.3,"f":0.33},{"w":7713.2,"f":1.0},{"w":7719,"f":0.359},{"w":7725.9,"f":0.216},{"w":7732.7,"f":0.24},{"w":7739.5,"f":0.216},{"w":7745.3,"f":1.0},{"w":7752.1,"f":0.273},{"w":7759,"f":0.435},{"w":7764.8,"f":0.216},
      {"w":7770.6,"f":0.469},
      {"w":7782,"f":0.235},{"w":7786.9,"f":0.664},{"w":7791.7,"f":0.235},{"w":7796.6,"f":0.302},{"w":7801.5,"f":0.416},{"w":7806.3,"f":0.235},{"w":7811.2,"f":0.216},{"w":7817,"f":0.726},{"w":7822.9,"f":0.254},{"w":7828.7,"f":0.216},
      {"w":7834.6,"f":0.392},{"w":7840.4,"f":0.264},{"w":7847.2,"f":1.0},{"w":7852.1,"f":0.454},{"w":7855,"f":0.407},{"w":7859.9,"f":0.254},{"w":7864.7,"f":0.492},{"w":7869.6,"f":0.283},{"w":7874.5,"f":0.421},{"w":7879.4,"f":0.283},
      {"w":7885.2,"f":0.497},{"w":7891,"f":0.235},{"w":7898.8,"f":0.216},{"w":7905.6,"f":0.235},{"w":7910.5,"f":1.0},{"w":7916.3,"f":0.33},{"w":7921.2,"f":0.207},{"w":7926.1,"f":0.43},{"w":7931.9,"f":0.197},{"w":7937.8,"f":0.197},
      {"w":7943.6,"f":0.383},{"w":7949.4,"f":0.245},{"w":7955.3,"f":0.226},{"w":7960.2,"f":0.707},{"w":7965,"f":0.254},{"w":7969.9,"f":0.207},{"w":7974.8,"f":0.445},{"w":7979.6,"f":0.235},{"w":7984.5,"f":0.302},{"w":7988.4,"f":1.0},
      {"w":7994.2,"f":0.235},{"w":8001,"f":0.202},{"w":8007.9,"f":0.388},{"w":8013.7,"f":0.254},{"w":8020.5,"f":0.64},{"w":8025.4,"f":0.216},{"w":8030.2,"f":0.202},{"w":8037.1,"f":0.202},{"w":8044.8,"f":0.326},{"w":8049.7,"f":0.216},
      {"w":8056.5,"f":0.421},{"w":8062.4,"f":0.216},{"w":8069.2,"f":0.202},{"w":8076,"f":0.216},{"w":8081.8,"f":0.202},{"w":8089.6,"f":0.264},{"w":8093.5,"f":0.216},{"w":8097.4,"f":0.321},{"w":8103.3,"f":0.216},{"w":8113,"f":0.197},
      {"w":8122.7,"f":0.202},{"w":8130.5,"f":0.221},{"w":8134.4,"f":0.25},{"w":8140.2,"f":0.23},{"w":8144.1,"f":0.259},{"w":8150,"f":0.207},{"w":8156.8,"f":0.202},{"w":8163.6,"f":0.197},{"w":8171.4,"f":0.202},{"w":8177.2,"f":0.197},
      {"w":8183.1,"f":0.221},{"w":8188.9,"f":0.207},{"w":8194.8,"f":0.202},{"w":8202.6,"f":0.202},{"w":8210.3,"f":0.207},{"w":8218.1,"f":0.216},{"w":8224.9,"f":0.221},{"w":8231.8,"f":0.24},{"w":8237.6,"f":0.226},{"w":8244.4,"f":0.207},
      {"w":8254.1,"f":0.202},{"w":8263.9,"f":0.199},{"w":8268.8,"f":0.216},{"w":8274.6,"f":0.55},{"w":8278.5,"f":0.454},{"w":8282.4,"f":0.692},{"w":8286.3,"f":0.559},{"w":8290.2,"f":0.311},{"w":8294.1,"f":1.0},{"w":8299.9,"f":0.273},
      {"w":8305.7,"f":0.383},{"w":8311.6,"f":0.23},{"w":8317.4,"f":0.197},{"w":8323.3,"f":0.197},{"w":8330.1,"f":0.226},{"w":8335,"f":0.235},{"w":8338.8,"f":1.0},{"w":8344.7,"f":0.402},{"w":8348.6,"f":0.202},{"w":8354.4,"f":0.235},
      {"w":8360.3,"f":0.383},{"w":8364.2,"f":0.216},{"w":8370,"f":0.202},{"w":8375.8,"f":0.516},{"w":8380.7,"f":0.226},{"w":8385.6,"f":0.197},{"w":8393.4,"f":1.0},{"w":8399.2,"f":0.207},{"w":8403.1,"f":0.235},{"w":8408.9,"f":0.583},
      {"w":8414.8,"f":0.197},{"w":8420.6,"f":0.226},{"w":8424.5,"f":1.0},{"w":8430.4,"f":0.226},{"w":8436.2,"f":0.197},{"w":8444,"f":0.478},{"w":8449.8,"f":0.197},{"w":8455.7,"f":0.226},{"w":8461.5,"f":1.0},{"w":8468.3,"f":0.197},
      {"w":8475.1,"f":0.202},{"w":8481,"f":0.235},{"w":8484.9,"f":0.464},{"w":8490.7,"f":0.254},{"w":8494.6,"f":0.197},{"w":8500.4,"f":0.621},{"w":8506.3,"f":0.188},{"w":8512.1,"f":0.197},{"w":8517,"f":0.202},{"w":8523.8,"f":0.197},
      {"w":8531.6,"f":0.307},{"w":8535.5,"f":0.202},{"w":8541.3,"f":0.188},{"w":8547.2,"f":0.202},{"w":8553,"f":0.197},{"w":8560.8,"f":0.188},{"w":8568.6,"f":0.192},{"w":8575.4,"f":0.202},{"w":8582.2,"f":0.259},{"w":8588.1,"f":0.197},
      {"w":8592,"f":0.285},{"w":8597.8,"f":0.197},{"w":8604.6,"f":0.292},{"w":8611.4,"f":0.397},{"w":8617.3,"f":0.464},{"w":8623.1,"f":0.502},{"w":8629,"f":0.464},{"w":8634.8,"f":0.369},{"w":8640.6,"f":0.311},{"w":8646.5,"f":0.435},
      {"w":8651.3,"f":0.54},{"w":8656.2,"f":0.545},{"w":8662,"f":0.521},{"w":8667.9,"f":0.416},{"w":8673.7,"f":0.369},{"w":8679.6,"f":0.292},{"w":8685.4,"f":0.254},{"w":8691.2,"f":0.235},{"w":8697.1,"f":0.245},{"w":8702.9,"f":0.216},
      {"w":8708.8,"f":0.202},{"w":8714.6,"f":0.211},{"w":8720.5,"f":0.202},{"w":8726.3,"f":0.216},{"w":8734.1,"f":0.202},{"w":8740.9,"f":0.216},{"w":8747.7,"f":0.211},{"w":8752.6,"f":0.702},{"w":8755.5,"f":0.616},{"w":8759.4,"f":1.0},
      {"w":8763.3,"f":0.369},{"w":8767.2,"f":0.607},{"w":8771.1,"f":1.0},{"w":8775,"f":0.33},{"w":8780.8,"f":0.216},{"w":8786.7,"f":0.202},{"w":8794.4,"f":0.207},{"w":8800.3,"f":0.254},{"w":8804.2,"f":0.202},{"w":8810,"f":0.483},
      {"w":8815.9,"f":1.0},{"w":8819.8,"f":0.573},{"w":8823.6,"f":0.464},{"w":8827.5,"f":1.0},{"w":8833.4,"f":0.226},{"w":8839.2,"f":0.254},{"w":8845.1,"f":0.216},{"w":8850.9,"f":0.33},{"w":8856.7,"f":0.216},{"w":8860.6,"f":0.578},
      {"w":8866.5,"f":0.216},{"w":8872.3,"f":0.673},{"w":8878.2,"f":1.0},{"w":8884,"f":0.264},{"w":8889.8,"f":0.678},{"w":8895.7,"f":0.321},{"w":8901.5,"f":0.254},{"w":8907.4,"f":0.407},{"w":8911.3,"f":1.0},{"w":8917.1,"f":0.254},
      {"w":8923,"f":0.321},{"w":8928.8,"f":0.397},{"w":8932.7,"f":0.635},{"w":8938.5,"f":0.254},{"w":8944.4,"f":0.597},{"w":8950.2,"f":1.0},{"w":8956,"f":0.273},{"w":8961.9,"f":0.254},{"w":8967.7,"f":0.226},{"w":8973.6,"f":0.202},
      {"w":8979.4,"f":0.554},{"w":8985.2,"f":0.235},{"w":8991.1,"f":0.559},{"w":8995,"f":1.0},{"w":9000.8,"f":0.226},{"w":9006.7,"f":0.235},{"w":9012.5,"f":0.23},{"w":9018.3,"f":0.235},{"w":9024.2,"f":0.226},{"w":9030,"f":0.388},
      {"w":9035.9,"f":0.216},{"w":9043.6,"f":0.497},{"w":9049.5,"f":0.216},{"w":9057.3,"f":0.235},{"w":9063.1,"f":0.245},{"w":9068.9,"f":0.226},{"w":9076.8,"f":0.216},{"w":9082.6,"f":0.311},{"w":9088.4,"f":0.221},{"w":9094.3,"f":0.383},
      {"w":9100.1,"f":0.216},{"w":9107.9,"f":0.211},{"w":9115.7,"f":0.216},{"w":9123.5,"f":0.216},{"w":9131.3,"f":0.221},{"w":9137.1,"f":0.235},{"w":9143,"f":0.307},{"w":9146.9,"f":0.264},{"w":9152.7,"f":0.33},{"w":9158.5,"f":0.221},
      {"w":9166.3,"f":0.221},{"w":9174.1,"f":0.218},{"w":9183.8,"f":0.221},{"w":9191.6,"f":0.226},{"w":9199.4,"f":0.23},{"w":9205.3,"f":0.269},{"w":9209.2,"f":0.292},{"w":9213.1,"f":0.25},{"w":9218.9,"f":0.311},{"w":9224.7,"f":0.235},
      {"w":9232.5,"f":0.23},{"w":9238.4,"f":0.254},{"w":9244.2,"f":0.262},{"w":9252,"f":0.235},{"w":9259.8,"f":0.254},{"w":9265.6,"f":0.23},{"w":9271.5,"f":0.23},{"w":9277.3,"f":0.292},{"w":9281.2,"f":0.302},{"w":9287,"f":0.273},
      {"w":9292.9,"f":0.292},{"w":9298.7,"f":0.259}
    ]
  },
  "encoding": {
    "x": {
      "field": "w",
      "type": "quantitative",
      "scale": {"domain": [4749, 9300], "nice": false, "zero": false},
      "axis": {
        "title": "Wavelength",
        "values": [5000, 6000, 7000, 8000, 9000],
        "format": "d",
        "labelFontSize": 28,
        "labelPadding": 14,
        "titleFontSize": 31,
        "titleBaseline": "alphabetic",
        "titleX": 1163,
        "titleY": 90
      }
    },
    "y": {
      "field": "f",
      "type": "quantitative",
      "scale": {"domain": [-0.734, 0.743], "nice": false, "zero": false},
      "axis": {
        "title": "10⁻¹⁸ erg s⁻¹ cm⁻² Å⁻¹",
        "values": [-0.6, -0.4, -0.2, 0, 0.2, 0.4, 0.6],
        "format": ".1f",
        "labelFontSize": 34,
        "labelPadding": 17,
        "titleFontSize": 50,
        "titleBaseline": "alphabetic",
        "titleAngle": -90,
        "titleX": -147,
        "titleY": 346
      }
    }
  },
  "layer": [
    {
      "data": {"name": "err"},
      "mark": {"type": "line", "color": "#008000", "strokeWidth": 1.3, "clip": true}
    },
    {
      "data": {"name": "flux"},
      "mark": {"type": "line", "color": "#000000", "strokeWidth": 3.4, "clip": true, "strokeJoin": "miter"}
    },
    {
      "data": {"name": "zero"},
      "mark": {"type": "line", "color": "#0000ff", "strokeWidth": 5.5, "clip": true}
    }
  ]
}
